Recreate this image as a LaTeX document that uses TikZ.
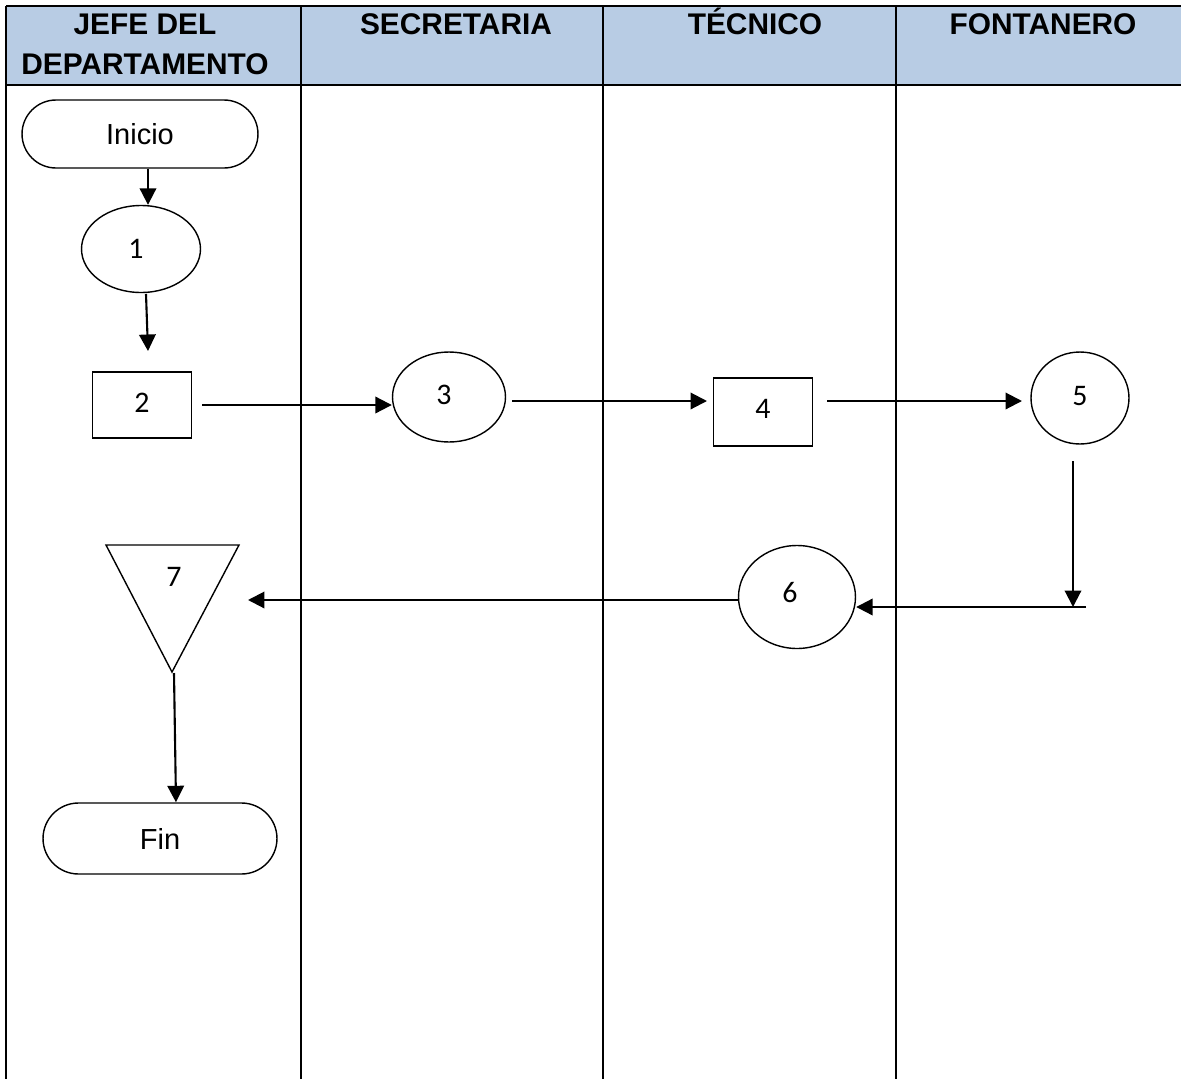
\documentclass[tikz,border=0pt]{standalone}
\usepackage{fontspec}
\setmainfont{Liberation Sans}
\newfontfamily\numfont{Carlito}
\usetikzlibrary{shapes.geometric,shapes.misc,arrows.meta}
\begin{document}
\begin{tikzpicture}[x=0.02cm,y=-0.02cm,
  grid/.style={line width=1.2pt,black},
  hdr/.style={font=\fontsize{17}{22.5}\selectfont\bfseries,align=center,anchor=base,inner sep=0pt},
  shp/.style={draw,line width=0.8pt,inner sep=0pt},
  term/.style={shp,rounded rectangle,font=\fontsize{16.5}{18}\selectfont},
  oval/.style={shp,ellipse,font=\numfont\fontsize{17}{18}\selectfont},
  box/.style={shp,rectangle,font=\numfont\fontsize{17}{18}\selectfont},
  arr/.style={line width=1.2pt,-{Triangle[length=0.33cm,width=0.33cm]}},
  ln/.style={line width=1pt}]
\useasboundingbox (0,0) rectangle (1181,1079);
% header
\fill[fill={rgb,255:red,184;green,204;blue,228}] (6,6) rectangle (1181,85);
\draw[grid] (6,6) -- (1181,6);
\draw[grid] (6,85) -- (1181,85);
\draw[grid] (6,6) -- (6,1079);
\draw[grid] (301,6) -- (301,1079);
\draw[grid] (603,6) -- (603,1079);
\draw[grid] (896,6) -- (896,1079);
\node[hdr] (h1) at (145,74) {JEFE DEL\\DEPARTAMENTO};
\node[hdr] (h2) at (456,34) {SECRETARIA};
\node[hdr] (h3) at (755,34) {TÉCNICO};
\node[hdr] (h4) at (1043,34) {FONTANERO};
% shapes
\node[term,minimum width=4.72cm,minimum height=1.36cm] (ini) at (140,134) {\raisebox{-2pt}{Inicio}};
\node[oval,minimum width=2.38cm,minimum height=1.74cm] (n1) at (141,249) {\hspace*{-0.2cm}1};
\node[box,minimum width=1.98cm,minimum height=1.32cm] (n2) at (142,405) {\raisebox{3pt}{2}};
\node[oval,minimum width=2.26cm,minimum height=1.8cm] (n3) at (449,397) {\raisebox{2pt}{\hspace*{-0.2cm}3}};
\node[box,minimum width=1.98cm,minimum height=1.36cm] (n4) at (763,412) {\raisebox{3pt}{4}};
\node[oval,minimum width=1.96cm,minimum height=1.84cm] (n5) at (1080,398) {\raisebox{2pt}{5}};
\node[oval,minimum width=2.34cm,minimum height=2.06cm] (n6) at (797,597) {\raisebox{5pt}{\hspace*{-0.28cm}6}};
\draw[shp] (106,545) -- (239,545) -- (172,672) -- cycle;
\node[font=\numfont\fontsize{17}{18}\selectfont,inner sep=0pt] (n7) at (174,577) {7};
\coordinate (n7b) at (174,673);
\node[term,minimum width=4.68cm,minimum height=1.42cm] (fin) at (160,838.5) {\raisebox{-2pt}{Fin}};
% connectors
\coordinate (a1) at (146,294);
\coordinate (a2) at (148,351);
\coordinate (b2) at (202,405);
\coordinate (b4) at (707,401);
\coordinate (c3) at (512,401);
\coordinate (c4) at (827,401);
\coordinate (c5) at (1022,401);
\coordinate (d5) at (1073,461);
\coordinate (d6) at (1073,607);
\coordinate (e1) at (1086,607);
\coordinate (f7) at (248,600);
\draw[arr] (ini.south -| 148,0) -- (n1.north -| 148,0);
\draw[arr] (a1) -- (a2);
\draw[arr] (b2) -- (n3.west |- b2);
\draw[arr] (c3) -- (b4);
\draw[arr] (c4) -- (c5);
\draw[arr] (d5) -- (d6);
\draw[arr] (e1) -- (n6.east |- e1);
\draw[arr] (n6.west |- 0,600) -- (f7);
\draw[arr] (n7b) -- (fin.north -| 176,0);
\end{tikzpicture}
\end{document}
